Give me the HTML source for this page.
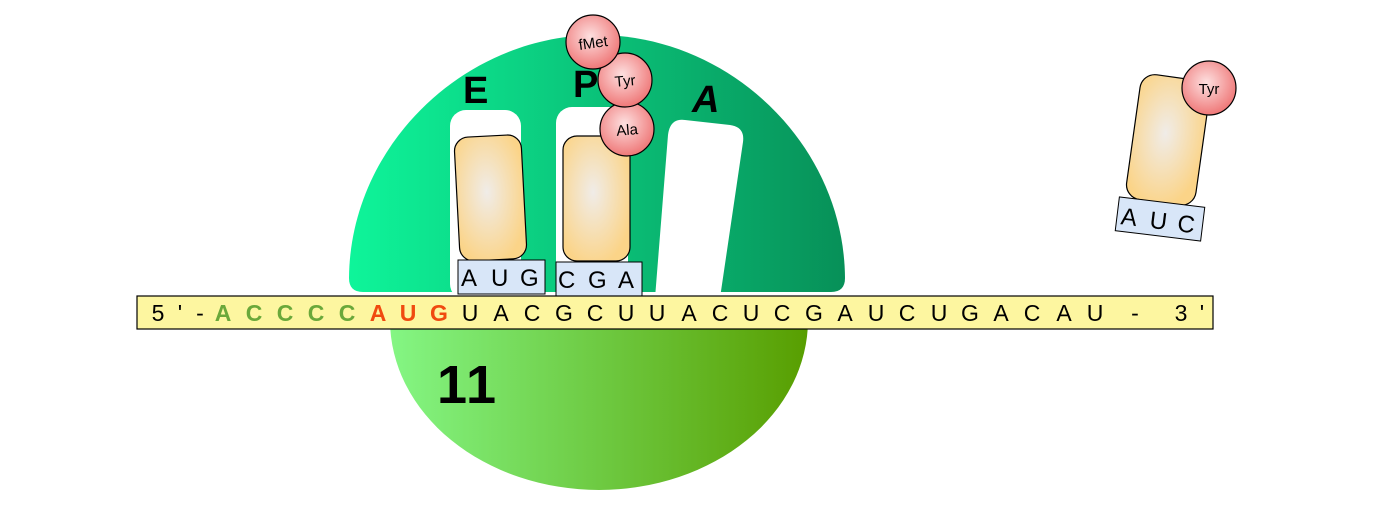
<!DOCTYPE html>
<html><head><meta charset="utf-8"><style>
html,body{margin:0;padding:0;background:#fff;width:1379px;height:528px;overflow:hidden}
text{font-family:"Liberation Sans",Arial,sans-serif}
</style></head><body>
<svg width="1379" height="528" viewBox="0 0 1379 528" xmlns="http://www.w3.org/2000/svg">
<defs>
<linearGradient id="top" x1="0" x2="1" y1="0" y2="0"><stop offset="0" stop-color="#0ef59a"/><stop offset="1" stop-color="#079058"/></linearGradient>
<linearGradient id="bot" x1="0" x2="1" y1="0" y2="0"><stop offset="0" stop-color="#84f684"/><stop offset="1" stop-color="#589e00"/></linearGradient>
<radialGradient id="trna" cx="0.45" cy="0.45" r="0.6"><stop offset="0" stop-color="#f0ece8"/><stop offset="1" stop-color="#fbd488"/></radialGradient>
<radialGradient id="aa" cx="0.45" cy="0.4" r="0.6"><stop offset="0" stop-color="#fde0e0"/><stop offset="1" stop-color="#ef7878"/></radialGradient>
</defs>
<path d="M390,320 A209,170 0 0 0 808,320 Z" fill="url(#bot)"/>
<path d="M349,278 C350,145 465,35 597,35 C730,35 844,145 845,278 Q845,292 831,292 L363,292 Q349,292 349,278 Z" fill="url(#top)"/>
<rect x="450" y="110" width="71" height="190" rx="16" fill="#fff"/>
<rect x="556" y="107" width="72" height="193" rx="16" fill="#fff"/>
<path d="M685,120 L730,125 Q745,127 743,142 L720,298 L655,298 L668,135 Q670,118 685,120 Z" fill="#fff"/>
<rect x="457" y="136" width="67" height="124" rx="14" fill="url(#trna)" stroke="#000" stroke-width="1.2" transform="rotate(-3 490 198)"/>
<rect x="458" y="260" width="87" height="34" fill="#d8e6f8" stroke="#000" stroke-width="1"/>
<text x="461" y="286" font-size="24">A</text><text x="491" y="286" font-size="24">U</text><text x="520" y="286" font-size="24">G</text>
<rect x="563" y="136" width="67" height="125" rx="14" fill="url(#trna)" stroke="#000" stroke-width="1.2"/>
<rect x="556" y="262" width="86" height="34" fill="#d8e6f8" stroke="#000" stroke-width="1"/>
<text x="558" y="288" font-size="24">C</text><text x="588" y="288" font-size="24">G</text><text x="618" y="288" font-size="24">A</text>
<text x="463" y="103" font-size="38" font-weight="bold">E</text>
<text x="573" y="97" font-size="38" font-weight="bold">P</text>
<text x="692" y="112" font-size="38" font-weight="bold" font-style="italic">A</text>
<circle cx="627" cy="129" r="27" fill="url(#aa)" stroke="#000" stroke-width="1.2"/>
<text x="627" y="135" font-size="15" text-anchor="middle" transform="rotate(-5 627 129)">Ala</text>
<circle cx="625" cy="80" r="27" fill="url(#aa)" stroke="#000" stroke-width="1.2"/>
<text x="625" y="86" font-size="15" text-anchor="middle" transform="rotate(-5 625 80)">Tyr</text>
<circle cx="593" cy="42" r="27" fill="url(#aa)" stroke="#000" stroke-width="1.2"/>
<text x="593" y="48" font-size="15" text-anchor="middle" transform="rotate(-8 593 42)">fMet</text>
<rect x="137" y="296" width="1076" height="33" fill="#fdf6a0" stroke="#000" stroke-width="1.2"/>
<g font-size="23" text-anchor="middle">
<text x="158" y="321">5</text><text x="180" y="321">'</text><text x="200" y="321">-</text>
<g fill="#6aa83a" font-weight="bold"><text x="223" y="321">A</text><text x="254" y="321">C</text><text x="285" y="321">C</text><text x="316" y="321">C</text><text x="347" y="321">C</text></g>
<g fill="#f04a10" font-weight="bold"><text x="378" y="321">A</text><text x="408" y="321">U</text><text x="439" y="321">G</text></g>
<text x="470" y="321">U</text><text x="501" y="321">A</text><text x="532" y="321">C</text><text x="564" y="321">G</text><text x="595" y="321">C</text><text x="626" y="321">U</text><text x="657" y="321">U</text><text x="689" y="321">A</text><text x="720" y="321">C</text><text x="751" y="321">U</text><text x="782" y="321">C</text><text x="814" y="321">G</text><text x="845" y="321">A</text><text x="876" y="321">U</text><text x="907" y="321">C</text><text x="939" y="321">U</text><text x="970" y="321">G</text><text x="1001" y="321">A</text><text x="1032" y="321">C</text><text x="1064" y="321">A</text><text x="1095" y="321">U</text>
<text x="1135" y="321">-</text><text x="1181" y="321">3</text><text x="1202" y="321">'</text>
</g>
<text x="437" y="403" font-size="54" font-weight="bold" letter-spacing="2">11</text>
<rect x="1133" y="77" width="70" height="126" rx="15" fill="url(#trna)" stroke="#000" stroke-width="1.2" transform="rotate(8 1168 140)"/>
<g transform="rotate(7 1160 219)">
<rect x="1117" y="202" width="86" height="34" fill="#d8e6f8" stroke="#000" stroke-width="1"/>
<text x="1121" y="229" font-size="24">A</text><text x="1150" y="229" font-size="24">U</text><text x="1178" y="229" font-size="24">C</text>
</g>
<circle cx="1209" cy="88" r="27" fill="url(#aa)" stroke="#000" stroke-width="1.2"/>
<text x="1209" y="94" font-size="15" text-anchor="middle">Tyr</text>
</svg>
</body></html>
